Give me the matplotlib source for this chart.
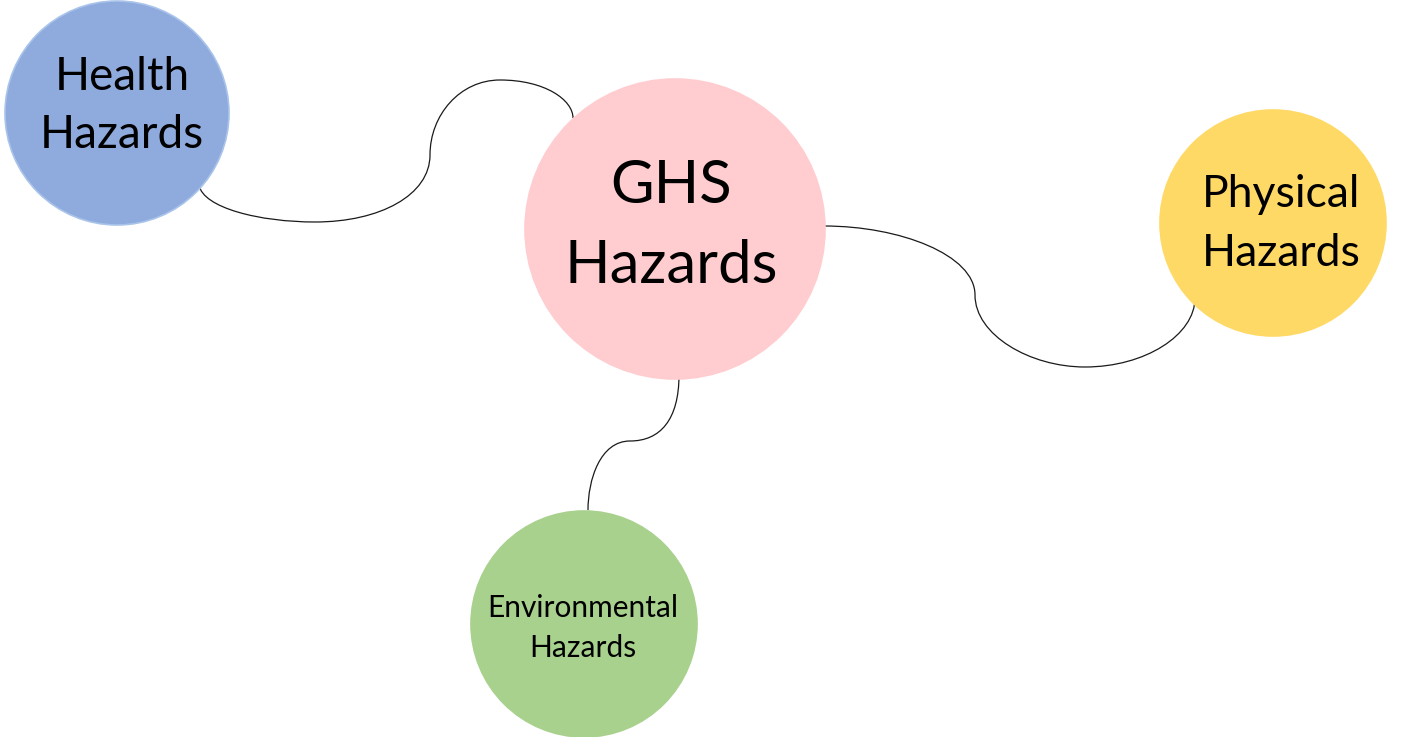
import matplotlib.pyplot as plt
from matplotlib.patches import Circle, PathPatch
from matplotlib.path import Path

# node labels and look
labels = ["Health\nHazards", "GHS\nHazards", "Physical\nHazards", "Environmental\nHazards"]
fill_colors = ["#8FAADC", "#FFCDD0", "#FFD966", "#A9D18E"]
edge_colors = ["#A9C4EA", "#FFCDD0", "#FFD966", "#A9D18E"]

# layout in pixel space (y grows downwards)
centers = [(117, 113), (675, 229), (1273, 223), (584, 624)]
radii = [112, 150, 113, 113]
text_x = [122, 671, 1281, 583]
baselines = [(90, 148), (203, 283), (207, 266), (617, 657)]
font_sizes = [33, 43, 32, 21.5]

# connectors: cubic bezier control points
connectors = [
    [(199, 185), (203, 208), (260, 222), (315, 222),
     (380, 222), (430, 195), (430, 155),
     (430, 115), (460, 80), (500, 80),
     (545, 80), (573, 100), (573, 118)],
    [(824, 226), (900, 226), (975, 255), (975, 295),
     (975, 335), (1030, 367), (1085, 367),
     (1145, 367), (1195, 335), (1195, 298)],
    [(679, 375), (679, 420), (660, 441), (630, 441),
     (600, 441), (588, 480), (588, 510)],
]

plt.rcParams["font.family"] = ["Lato", "DejaVu Sans"]

fig = plt.figure(figsize=(14.06, 7.37), dpi=100)
ax = fig.add_axes([0, 0, 1, 1])
ax.set_xlim(0, 1406)
ax.set_ylim(737, 0)
ax.set_aspect("equal")
ax.axis("off")

for pts in connectors:
    codes = [Path.MOVETO] + [Path.CURVE4] * (len(pts) - 1)
    ax.add_patch(PathPatch(Path(pts, codes), facecolor="none",
                           edgecolor="#1a1a1a", lw=0.9, zorder=1))

for (cx, cy), r, fc, ec in zip(centers, radii, fill_colors, edge_colors):
    ax.add_patch(Circle((cx, cy), r, facecolor=fc, edgecolor=ec, lw=1.2, zorder=2))

for lab, x, (b1, b2), fs in zip(labels, text_x, baselines, font_sizes):
    first, second = lab.split("\n")
    ax.text(x, b1, first, ha="center", va="baseline", fontsize=fs, color="black", zorder=3)
    ax.text(x, b2, second, ha="center", va="baseline", fontsize=fs, color="black", zorder=3)

fig.savefig("out.png", dpi=100)
